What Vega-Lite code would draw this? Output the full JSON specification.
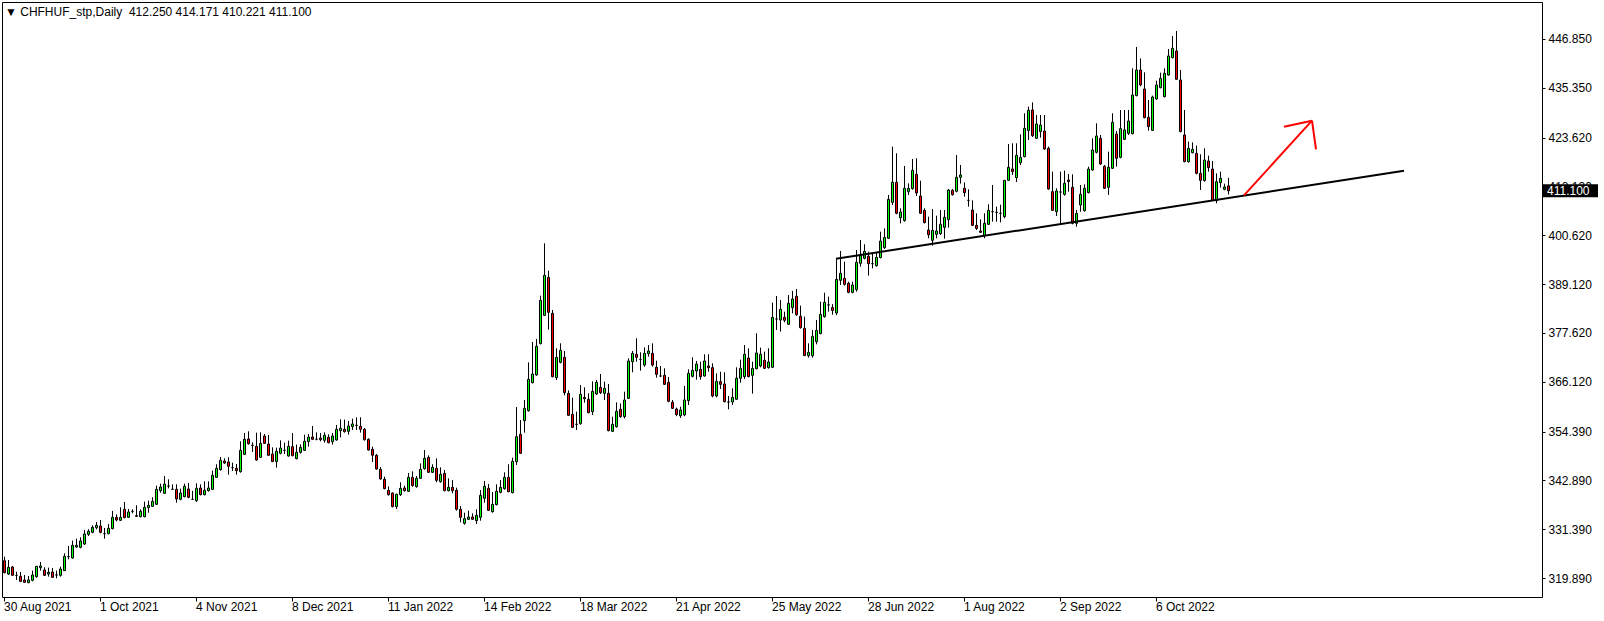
{
"$schema": "https://vega.github.io/schema/vega-lite/v6.json",
"width": 1540, "height": 595,
"autosize": "none",
"padding": {"left": 2, "top": 2, "right": 62, "bottom": 24},
"background": "white",
"config": {"view": {"stroke": "black", "strokeWidth": 1}, "axis": {"labelFont": "Liberation Sans", "labelFontSize": 12, "labelColor": "black", "tickColor": "black", "domainColor": "black", "grid": false}},
"title": {"text": "▼ CHFHUF_stp,Daily\u00a0 412.250 414.171 410.221 411.100", "anchor": "start", "frame": "group", "orient": "top", "offset": -4, "dy": 13, "font": "Liberation Sans", "fontSize": 12, "fontWeight": "normal", "color": "black", "dx": 3},
"datasets": {
"candles": [
{"d":"2021-08-30","o":323.97,"h":324.92,"l":320.99,"c":321.15},
{"d":"2021-08-31","o":320.83,"h":324.13,"l":320.60,"c":322.41},
{"d":"2021-09-01","o":322.49,"h":322.72,"l":320.37,"c":320.52},
{"d":"2021-09-02","o":320.52,"h":321.39,"l":319.42,"c":320.52},
{"d":"2021-09-03","o":320.29,"h":321.31,"l":318.95,"c":319.11},
{"d":"2021-09-06","o":319.42,"h":320.60,"l":318.80,"c":318.87},
{"d":"2021-09-07","o":318.80,"h":320.37,"l":318.64,"c":319.42},
{"d":"2021-09-08","o":319.35,"h":321.62,"l":319.11,"c":320.60},
{"d":"2021-09-09","o":320.21,"h":322.72,"l":319.97,"c":322.64},
{"d":"2021-09-10","o":322.33,"h":323.66,"l":321.62,"c":322.72},
{"d":"2021-09-13","o":321.78,"h":322.41,"l":320.37,"c":320.52},
{"d":"2021-09-14","o":320.83,"h":322.33,"l":320.21,"c":321.23},
{"d":"2021-09-15","o":321.31,"h":322.25,"l":319.97,"c":320.05},
{"d":"2021-09-16","o":320.60,"h":321.62,"l":319.81,"c":320.60},
{"d":"2021-09-17","o":320.52,"h":322.56,"l":320.21,"c":322.01},
{"d":"2021-09-20","o":321.62,"h":325.70,"l":321.54,"c":324.99},
{"d":"2021-09-21","o":324.92,"h":327.43,"l":324.29,"c":324.92},
{"d":"2021-09-22","o":324.60,"h":328.69,"l":324.45,"c":327.59},
{"d":"2021-09-23","o":327.20,"h":329.16,"l":327.00,"c":327.60},
{"d":"2021-09-24","o":327.12,"h":329.47,"l":326.88,"c":328.61},
{"d":"2021-09-27","o":327.90,"h":331.20,"l":327.67,"c":330.26},
{"d":"2021-09-28","o":330.18,"h":331.36,"l":329.79,"c":330.89},
{"d":"2021-09-29","o":330.65,"h":332.30,"l":330.42,"c":331.83},
{"d":"2021-09-30","o":331.75,"h":333.09,"l":331.36,"c":332.30},
{"d":"2021-10-01","o":332.14,"h":333.56,"l":330.42,"c":330.65},
{"d":"2021-10-04","o":330.34,"h":331.67,"l":329.16,"c":330.34},
{"d":"2021-10-05","o":330.34,"h":332.61,"l":330.18,"c":331.59},
{"d":"2021-10-06","o":331.52,"h":335.68,"l":331.36,"c":334.18},
{"d":"2021-10-07","o":334.18,"h":334.89,"l":333.24,"c":333.56},
{"d":"2021-10-08","o":333.48,"h":336.54,"l":333.32,"c":334.18},
{"d":"2021-10-11","o":336.07,"h":337.80,"l":333.95,"c":334.11},
{"d":"2021-10-12","o":334.18,"h":336.15,"l":334.03,"c":335.44},
{"d":"2021-10-13","o":335.60,"h":336.07,"l":335.13,"c":335.60},
{"d":"2021-10-14","o":334.58,"h":337.01,"l":334.34,"c":334.42},
{"d":"2021-10-15","o":334.34,"h":336.07,"l":334.18,"c":335.60},
{"d":"2021-10-18","o":334.34,"h":337.87,"l":334.18,"c":336.54},
{"d":"2021-10-19","o":336.46,"h":338.11,"l":335.28,"c":337.01},
{"d":"2021-10-20","o":336.77,"h":338.90,"l":336.62,"c":337.95},
{"d":"2021-10-21","o":337.25,"h":341.64,"l":337.09,"c":340.78},
{"d":"2021-10-22","o":340.46,"h":342.11,"l":339.99,"c":341.33},
{"d":"2021-10-25","o":339.84,"h":343.92,"l":339.68,"c":342.03},
{"d":"2021-10-26","o":341.56,"h":343.13,"l":341.01,"c":341.56},
{"d":"2021-10-27","o":340.78,"h":341.95,"l":340.62,"c":340.78},
{"d":"2021-10-28","o":340.78,"h":341.95,"l":337.64,"c":338.50},
{"d":"2021-10-29","o":338.42,"h":340.93,"l":338.19,"c":339.91},
{"d":"2021-11-01","o":339.05,"h":342.11,"l":338.89,"c":341.49},
{"d":"2021-11-02","o":340.86,"h":342.27,"l":338.66,"c":338.89},
{"d":"2021-11-03","o":338.42,"h":340.41,"l":338.26,"c":338.42},
{"d":"2021-11-04","o":338.11,"h":342.19,"l":337.80,"c":341.01},
{"d":"2021-11-05","o":341.09,"h":341.95,"l":339.36,"c":339.52},
{"d":"2021-11-08","o":339.52,"h":342.66,"l":339.36,"c":340.54},
{"d":"2021-11-09","o":340.46,"h":342.66,"l":340.23,"c":341.09},
{"d":"2021-11-10","o":340.78,"h":345.18,"l":340.62,"c":344.08},
{"d":"2021-11-11","o":343.60,"h":346.67,"l":343.45,"c":345.72},
{"d":"2021-11-12","o":345.41,"h":348.39,"l":345.18,"c":347.61},
{"d":"2021-11-15","o":347.45,"h":348.08,"l":346.75,"c":346.98},
{"d":"2021-11-16","o":347.22,"h":348.32,"l":344.23,"c":346.20},
{"d":"2021-11-17","o":345.88,"h":347.06,"l":345.10,"c":345.88},
{"d":"2021-11-18","o":345.72,"h":346.75,"l":344.23,"c":345.18},
{"d":"2021-11-19","o":344.94,"h":352.08,"l":344.70,"c":349.96},
{"d":"2021-11-22","o":349.02,"h":354.05,"l":348.87,"c":352.56},
{"d":"2021-11-23","o":352.63,"h":354.44,"l":351.30,"c":351.53},
{"d":"2021-11-24","o":351.14,"h":351.85,"l":349.57,"c":351.14},
{"d":"2021-11-25","o":350.91,"h":354.13,"l":347.53,"c":347.69},
{"d":"2021-11-26","o":348.32,"h":354.20,"l":348.16,"c":351.61},
{"d":"2021-11-29","o":353.34,"h":353.81,"l":351.46,"c":351.61},
{"d":"2021-11-30","o":351.46,"h":353.58,"l":348.63,"c":348.79},
{"d":"2021-12-01","o":349.10,"h":350.67,"l":347.22,"c":347.30},
{"d":"2021-12-02","o":347.30,"h":350.59,"l":345.88,"c":349.73},
{"d":"2021-12-03","o":349.26,"h":352.32,"l":349.02,"c":350.51},
{"d":"2021-12-06","o":349.96,"h":351.77,"l":349.10,"c":349.96},
{"d":"2021-12-07","o":348.63,"h":352.24,"l":348.47,"c":350.91},
{"d":"2021-12-08","o":350.83,"h":354.05,"l":348.55,"c":348.71},
{"d":"2021-12-09","o":348.00,"h":351.30,"l":347.84,"c":349.49},
{"d":"2021-12-10","o":349.49,"h":351.38,"l":349.18,"c":350.67},
{"d":"2021-12-13","o":349.96,"h":353.65,"l":349.81,"c":352.08},
{"d":"2021-12-14","o":352.01,"h":353.81,"l":350.83,"c":353.10},
{"d":"2021-12-15","o":353.10,"h":355.70,"l":352.40,"c":352.56},
{"d":"2021-12-16","o":352.56,"h":354.20,"l":352.32,"c":352.56},
{"d":"2021-12-17","o":352.87,"h":354.05,"l":352.08,"c":352.48},
{"d":"2021-12-20","o":352.32,"h":354.20,"l":351.77,"c":353.50},
{"d":"2021-12-21","o":353.03,"h":353.73,"l":351.61,"c":351.77},
{"d":"2021-12-22","o":352.01,"h":354.05,"l":351.30,"c":353.34},
{"d":"2021-12-23","o":352.40,"h":355.93,"l":352.24,"c":354.91},
{"d":"2021-12-24","o":354.60,"h":357.27,"l":353.03,"c":355.15},
{"d":"2021-12-27","o":354.91,"h":357.19,"l":354.13,"c":354.36},
{"d":"2021-12-28","o":354.44,"h":356.87,"l":353.65,"c":355.70},
{"d":"2021-12-29","o":355.54,"h":357.42,"l":354.75,"c":356.17},
{"d":"2021-12-30","o":355.85,"h":357.74,"l":354.75,"c":355.85},
{"d":"2021-12-31","o":355.62,"h":357.74,"l":354.13,"c":354.91},
{"d":"2022-01-03","o":354.91,"h":355.22,"l":352.24,"c":352.48},
{"d":"2022-01-04","o":352.56,"h":352.79,"l":349.89,"c":350.04},
{"d":"2022-01-05","o":350.20,"h":350.83,"l":347.22,"c":348.79},
{"d":"2022-01-06","o":348.79,"h":349.10,"l":345.41,"c":345.57},
{"d":"2022-01-07","o":345.49,"h":346.04,"l":343.06,"c":343.21},
{"d":"2022-01-10","o":343.13,"h":343.76,"l":340.78,"c":340.94},
{"d":"2022-01-11","o":340.54,"h":341.48,"l":339.29,"c":339.52},
{"d":"2022-01-12","o":339.91,"h":340.07,"l":336.54,"c":336.70},
{"d":"2022-01-13","o":336.70,"h":339.76,"l":336.15,"c":339.60},
{"d":"2022-01-14","o":339.52,"h":342.43,"l":339.21,"c":341.01},
{"d":"2022-01-17","o":341.09,"h":341.64,"l":340.23,"c":340.46},
{"d":"2022-01-18","o":340.31,"h":344.63,"l":340.15,"c":343.60},
{"d":"2022-01-19","o":343.60,"h":345.02,"l":341.41,"c":341.64},
{"d":"2022-01-20","o":341.40,"h":343.92,"l":341.17,"c":343.37},
{"d":"2022-01-21","o":343.37,"h":346.90,"l":343.21,"c":345.49},
{"d":"2022-01-24","o":345.64,"h":350.04,"l":345.41,"c":348.08},
{"d":"2022-01-25","o":348.31,"h":348.78,"l":344.62,"c":344.78},
{"d":"2022-01-26","o":344.78,"h":346.67,"l":344.62,"c":345.96},
{"d":"2022-01-27","o":345.72,"h":348.08,"l":342.43,"c":342.90},
{"d":"2022-01-28","o":342.58,"h":345.96,"l":342.35,"c":344.31},
{"d":"2022-01-31","o":344.54,"h":345.33,"l":340.31,"c":340.46},
{"d":"2022-02-01","o":340.46,"h":343.37,"l":340.31,"c":341.25},
{"d":"2022-02-02","o":341.25,"h":342.97,"l":339.83,"c":340.46},
{"d":"2022-02-03","o":340.54,"h":341.17,"l":335.75,"c":336.07},
{"d":"2022-02-04","o":336.07,"h":336.85,"l":333.00,"c":334.18},
{"d":"2022-02-07","o":332.77,"h":335.28,"l":332.45,"c":333.87},
{"d":"2022-02-08","o":333.71,"h":335.75,"l":333.55,"c":334.26},
{"d":"2022-02-09","o":334.26,"h":335.12,"l":333.55,"c":333.71},
{"d":"2022-02-10","o":333.40,"h":336.07,"l":332.61,"c":334.65},
{"d":"2022-02-11","o":334.18,"h":340.62,"l":333.40,"c":339.36},
{"d":"2022-02-14","o":338.66,"h":342.74,"l":337.64,"c":341.48},
{"d":"2022-02-15","o":341.01,"h":342.03,"l":335.67,"c":335.83},
{"d":"2022-02-16","o":335.52,"h":340.15,"l":335.28,"c":337.24},
{"d":"2022-02-17","o":337.17,"h":341.95,"l":337.01,"c":340.31},
{"d":"2022-02-18","o":340.07,"h":342.97,"l":339.83,"c":341.25},
{"d":"2022-02-21","o":340.93,"h":344.78,"l":340.70,"c":343.60},
{"d":"2022-02-22","o":343.60,"h":346.67,"l":340.07,"c":340.23},
{"d":"2022-02-23","o":339.99,"h":348.24,"l":339.83,"c":347.37},
{"d":"2022-02-24","o":347.29,"h":360.17,"l":346.51,"c":353.18},
{"d":"2022-02-25","o":353.73,"h":357.11,"l":349.10,"c":349.26},
{"d":"2022-02-28","o":356.95,"h":361.82,"l":354.12,"c":359.86},
{"d":"2022-03-01","o":359.31,"h":370.69,"l":359.07,"c":366.69},
{"d":"2022-03-02","o":365.90,"h":375.48,"l":365.74,"c":367.94},
{"d":"2022-03-03","o":367.71,"h":376.19,"l":367.55,"c":374.46},
{"d":"2022-03-04","o":375.09,"h":386.39,"l":374.93,"c":385.29},
{"d":"2022-03-07","o":381.76,"h":398.72,"l":381.60,"c":391.18},
{"d":"2022-03-08","o":390.71,"h":392.28,"l":378.38,"c":382.47},
{"d":"2022-03-09","o":382.23,"h":383.02,"l":367.16,"c":367.31},
{"d":"2022-03-10","o":367.08,"h":373.99,"l":366.53,"c":371.87},
{"d":"2022-03-11","o":370.69,"h":375.17,"l":370.45,"c":373.52},
{"d":"2022-03-14","o":371.87,"h":373.36,"l":362.92,"c":363.55},
{"d":"2022-03-15","o":363.39,"h":364.09,"l":358.05,"c":358.21},
{"d":"2022-03-16","o":358.44,"h":362.37,"l":355.22,"c":355.38},
{"d":"2022-03-17","o":356.09,"h":359.07,"l":354.75,"c":356.09},
{"d":"2022-03-18","o":356.24,"h":365.35,"l":356.01,"c":363.15},
{"d":"2022-03-21","o":362.45,"h":364.80,"l":361.19,"c":362.13},
{"d":"2022-03-22","o":361.98,"h":363.39,"l":358.68,"c":358.83},
{"d":"2022-03-23","o":359.07,"h":366.21,"l":358.28,"c":363.86},
{"d":"2022-03-24","o":363.23,"h":366.53,"l":363.00,"c":365.98},
{"d":"2022-03-25","o":364.80,"h":367.94,"l":363.23,"c":363.55},
{"d":"2022-03-28","o":363.39,"h":366.14,"l":361.82,"c":364.57},
{"d":"2022-03-29","o":363.39,"h":365.59,"l":354.44,"c":354.60},
{"d":"2022-03-30","o":354.44,"h":357.89,"l":354.28,"c":356.09},
{"d":"2022-03-31","o":355.54,"h":361.27,"l":355.30,"c":359.15},
{"d":"2022-04-01","o":359.65,"h":361.00,"l":357.60,"c":357.90},
{"d":"2022-04-04","o":357.90,"h":363.78,"l":357.50,"c":361.82},
{"d":"2022-04-05","o":362.21,"h":371.64,"l":362.06,"c":371.01},
{"d":"2022-04-06","o":370.85,"h":373.36,"l":368.34,"c":372.81},
{"d":"2022-04-07","o":372.58,"h":376.35,"l":370.85,"c":371.87},
{"d":"2022-04-08","o":371.40,"h":373.05,"l":368.73,"c":371.40},
{"d":"2022-04-11","o":370.06,"h":374.22,"l":369.67,"c":372.81},
{"d":"2022-04-12","o":372.74,"h":374.77,"l":372.03,"c":373.36},
{"d":"2022-04-13","o":372.81,"h":375.17,"l":369.67,"c":370.06},
{"d":"2022-04-14","o":369.52,"h":371.09,"l":367.08,"c":367.87},
{"d":"2022-04-15","o":367.47,"h":369.83,"l":367.24,"c":367.47},
{"d":"2022-04-18","o":367.63,"h":369.28,"l":365.35,"c":365.51},
{"d":"2022-04-19","o":365.98,"h":367.24,"l":361.27,"c":361.51},
{"d":"2022-04-20","o":361.27,"h":361.82,"l":359.70,"c":359.86},
{"d":"2022-04-21","o":359.70,"h":360.02,"l":358.00,"c":358.40},
{"d":"2022-04-22","o":358.10,"h":360.25,"l":357.60,"c":359.47},
{"d":"2022-04-25","o":358.30,"h":365.12,"l":358.00,"c":361.82},
{"d":"2022-04-26","o":361.66,"h":369.04,"l":360.64,"c":368.10},
{"d":"2022-04-27","o":367.40,"h":371.87,"l":367.16,"c":368.81},
{"d":"2022-04-28","o":368.65,"h":371.01,"l":366.61,"c":370.30},
{"d":"2022-04-29","o":369.04,"h":370.85,"l":366.61,"c":367.32},
{"d":"2022-05-02","o":367.47,"h":372.58,"l":367.32,"c":371.01},
{"d":"2022-05-03","o":369.83,"h":372.58,"l":368.49,"c":369.44},
{"d":"2022-05-04","o":369.44,"h":370.46,"l":362.45,"c":362.76},
{"d":"2022-05-05","o":362.76,"h":368.10,"l":362.45,"c":366.22},
{"d":"2022-05-06","o":366.14,"h":368.49,"l":364.41,"c":365.51},
{"d":"2022-05-09","o":365.59,"h":368.34,"l":361.27,"c":361.43},
{"d":"2022-05-10","o":361.35,"h":362.76,"l":359.62,"c":361.35},
{"d":"2022-05-11","o":361.35,"h":364.57,"l":360.64,"c":362.45},
{"d":"2022-05-12","o":361.98,"h":369.52,"l":361.82,"c":366.93},
{"d":"2022-05-13","o":366.93,"h":371.32,"l":365.90,"c":369.28},
{"d":"2022-05-16","o":367.32,"h":374.77,"l":366.77,"c":372.58},
{"d":"2022-05-17","o":371.71,"h":373.99,"l":367.16,"c":367.32},
{"d":"2022-05-18","o":367.63,"h":370.85,"l":363.31,"c":369.28},
{"d":"2022-05-19","o":369.20,"h":377.52,"l":369.04,"c":372.89},
{"d":"2022-05-20","o":369.83,"h":374.15,"l":369.52,"c":372.58},
{"d":"2022-05-23","o":371.17,"h":373.21,"l":369.12,"c":369.28},
{"d":"2022-05-24","o":369.44,"h":373.99,"l":369.20,"c":370.77},
{"d":"2022-05-25","o":369.52,"h":384.75,"l":369.36,"c":381.29},
{"d":"2022-05-26","o":380.90,"h":386.32,"l":378.31,"c":380.90},
{"d":"2022-05-27","o":380.67,"h":385.38,"l":377.92,"c":383.18},
{"d":"2022-05-30","o":381.29,"h":382.63,"l":380.12,"c":380.59},
{"d":"2022-05-31","o":379.64,"h":386.55,"l":379.49,"c":384.59},
{"d":"2022-06-01","o":383.57,"h":387.50,"l":382.24,"c":385.61},
{"d":"2022-06-02","o":386.24,"h":387.97,"l":381.61,"c":381.92},
{"d":"2022-06-03","o":381.53,"h":384.04,"l":378.62,"c":378.86},
{"d":"2022-06-06","o":378.70,"h":381.45,"l":372.19,"c":372.26},
{"d":"2022-06-07","o":372.26,"h":375.17,"l":371.79,"c":373.05},
{"d":"2022-06-08","o":372.26,"h":378.31,"l":371.79,"c":376.82},
{"d":"2022-06-09","o":375.56,"h":380.67,"l":374.93,"c":378.23},
{"d":"2022-06-10","o":377.45,"h":384.98,"l":377.29,"c":382.00},
{"d":"2022-06-13","o":381.45,"h":387.10,"l":381.21,"c":384.83},
{"d":"2022-06-14","o":384.20,"h":386.16,"l":382.63,"c":384.20},
{"d":"2022-06-15","o":383.60,"h":384.40,"l":381.90,"c":382.90},
{"d":"2022-06-16","o":382.30,"h":394.95,"l":381.80,"c":390.24},
{"d":"2022-06-17","o":390.01,"h":396.92,"l":388.91,"c":391.66},
{"d":"2022-06-20","o":390.48,"h":394.40,"l":388.75,"c":389.06},
{"d":"2022-06-21","o":389.30,"h":389.69,"l":386.94,"c":387.18},
{"d":"2022-06-22","o":387.18,"h":389.69,"l":386.94,"c":388.91},
{"d":"2022-06-23","o":387.81,"h":397.15,"l":387.34,"c":394.25},
{"d":"2022-06-24","o":394.01,"h":399.51,"l":393.23,"c":395.82},
{"d":"2022-06-27","o":395.19,"h":398.49,"l":394.95,"c":396.84},
{"d":"2022-06-28","o":395.66,"h":396.76,"l":391.11,"c":393.93},
{"d":"2022-06-29","o":393.93,"h":396.37,"l":392.83,"c":393.93},
{"d":"2022-06-30","o":393.46,"h":396.52,"l":393.23,"c":395.42},
{"d":"2022-07-01","o":395.35,"h":401.47,"l":395.19,"c":399.27},
{"d":"2022-07-04","o":397.70,"h":402.25,"l":397.39,"c":400.13},
{"d":"2022-07-05","o":399.90,"h":410.11,"l":399.74,"c":409.08},
{"d":"2022-07-06","o":408.38,"h":421.49,"l":407.75,"c":413.09},
{"d":"2022-07-07","o":413.09,"h":419.92,"l":405.55,"c":405.79},
{"d":"2022-07-08","o":404.77,"h":406.97,"l":403.43,"c":406.10},
{"d":"2022-07-11","o":404.06,"h":416.94,"l":403.82,"c":411.68},
{"d":"2022-07-12","o":410.89,"h":412.85,"l":410.11,"c":411.68},
{"d":"2022-07-13","o":411.60,"h":418.59,"l":411.36,"c":415.92},
{"d":"2022-07-14","o":414.97,"h":418.74,"l":409.87,"c":410.58},
{"d":"2022-07-15","o":409.87,"h":413.48,"l":405.63,"c":405.79},
{"d":"2022-07-18","o":406.49,"h":406.97,"l":403.43,"c":403.59},
{"d":"2022-07-19","o":401.86,"h":405.00,"l":399.90,"c":400.76},
{"d":"2022-07-20","o":399.43,"h":406.81,"l":398.17,"c":401.78},
{"d":"2022-07-21","o":400.84,"h":405.24,"l":399.90,"c":401.63},
{"d":"2022-07-22","o":401.00,"h":406.57,"l":400.68,"c":403.20},
{"d":"2022-07-25","o":402.49,"h":406.57,"l":399.82,"c":404.85},
{"d":"2022-07-26","o":404.30,"h":411.52,"l":402.41,"c":411.28},
{"d":"2022-07-27","o":411.21,"h":411.52,"l":409.95,"c":410.18},
{"d":"2022-07-28","o":410.97,"h":419.53,"l":410.73,"c":414.27},
{"d":"2022-07-29","o":414.27,"h":417.17,"l":412.78,"c":414.82},
{"d":"2022-08-01","o":411.68,"h":413.09,"l":409.71,"c":410.66},
{"d":"2022-08-02","o":408.85,"h":411.44,"l":407.36,"c":408.85},
{"d":"2022-08-03","o":406.57,"h":408.85,"l":402.80,"c":402.96},
{"d":"2022-08-04","o":402.96,"h":405.79,"l":401.86,"c":402.25},
{"d":"2022-08-05","o":401.63,"h":404.37,"l":401.16,"c":401.31},
{"d":"2022-08-08","o":400.53,"h":405.79,"l":399.90,"c":403.43},
{"d":"2022-08-09","o":403.20,"h":407.91,"l":403.04,"c":406.49},
{"d":"2022-08-10","o":406.18,"h":412.46,"l":403.82,"c":406.18},
{"d":"2022-08-11","o":406.02,"h":407.36,"l":403.82,"c":406.02},
{"d":"2022-08-12","o":405.79,"h":407.83,"l":403.67,"c":405.79},
{"d":"2022-08-15","o":405.00,"h":413.64,"l":404.61,"c":413.56},
{"d":"2022-08-16","o":413.56,"h":422.12,"l":413.40,"c":416.62},
{"d":"2022-08-17","o":416.23,"h":422.28,"l":414.82,"c":415.60},
{"d":"2022-08-18","o":414.19,"h":422.28,"l":413.17,"c":419.45},
{"d":"2022-08-19","o":417.72,"h":424.40,"l":417.17,"c":418.98},
{"d":"2022-08-22","o":419.14,"h":429.34,"l":418.98,"c":425.81},
{"d":"2022-08-23","o":425.26,"h":430.91,"l":423.06,"c":430.05},
{"d":"2022-08-24","o":430.13,"h":431.93,"l":423.77,"c":424.08},
{"d":"2022-08-25","o":423.46,"h":428.95,"l":423.30,"c":426.83},
{"d":"2022-08-26","o":425.03,"h":428.95,"l":423.61,"c":426.59},
{"d":"2022-08-29","o":425.18,"h":428.95,"l":420.71,"c":420.94},
{"d":"2022-08-30","o":421.10,"h":421.49,"l":411.36,"c":411.52},
{"d":"2022-08-31","o":410.89,"h":415.60,"l":406.34,"c":406.50},
{"d":"2022-09-01","o":406.18,"h":411.68,"l":405.16,"c":411.05},
{"d":"2022-09-02","o":410.81,"h":415.60,"l":403.04,"c":410.81},
{"d":"2022-09-05","o":410.26,"h":415.84,"l":409.95,"c":412.86},
{"d":"2022-09-06","o":413.64,"h":415.05,"l":410.89,"c":413.25},
{"d":"2022-09-07","o":411.91,"h":414.98,"l":403.20,"c":403.43},
{"d":"2022-09-08","o":403.43,"h":406.57,"l":402.65,"c":405.79},
{"d":"2022-09-09","o":407.75,"h":412.46,"l":406.18,"c":410.26},
{"d":"2022-09-12","o":406.42,"h":412.62,"l":406.18,"c":411.68},
{"d":"2022-09-13","o":410.66,"h":416.78,"l":410.50,"c":416.23},
{"d":"2022-09-14","o":416.00,"h":423.46,"l":415.84,"c":420.71},
{"d":"2022-09-15","o":420.16,"h":426.99,"l":419.92,"c":424.00},
{"d":"2022-09-16","o":423.46,"h":424.24,"l":417.17,"c":417.41},
{"d":"2022-09-19","o":416.86,"h":417.17,"l":411.52,"c":411.68},
{"d":"2022-09-20","o":411.91,"h":420.31,"l":410.11,"c":416.62},
{"d":"2022-09-21","o":416.39,"h":429.34,"l":416.23,"c":427.22},
{"d":"2022-09-22","o":424.48,"h":425.18,"l":416.78,"c":418.74},
{"d":"2022-09-23","o":418.98,"h":430.13,"l":418.74,"c":425.73},
{"d":"2022-09-26","o":423.22,"h":430.13,"l":423.06,"c":425.42},
{"d":"2022-09-27","o":424.63,"h":430.13,"l":424.24,"c":427.54},
{"d":"2022-09-28","o":424.55,"h":439.94,"l":424.40,"c":433.66},
{"d":"2022-09-29","o":433.51,"h":444.97,"l":433.35,"c":439.55},
{"d":"2022-09-30","o":439.55,"h":442.30,"l":435.70,"c":436.02},
{"d":"2022-10-03","o":435.08,"h":439.00,"l":428.16,"c":428.32},
{"d":"2022-10-04","o":428.40,"h":432.48,"l":425.26,"c":426.20},
{"d":"2022-10-05","o":425.34,"h":433.51,"l":425.18,"c":433.19},
{"d":"2022-10-06","o":432.72,"h":437.04,"l":432.56,"c":436.02},
{"d":"2022-10-07","o":435.39,"h":438.92,"l":435.23,"c":437.59},
{"d":"2022-10-10","o":433.27,"h":439.94,"l":433.11,"c":438.77},
{"d":"2022-10-11","o":438.37,"h":444.50,"l":438.22,"c":442.85},
{"d":"2022-10-12","o":442.46,"h":447.56,"l":442.30,"c":444.65},
{"d":"2022-10-13","o":444.03,"h":448.74,"l":437.20,"c":437.35},
{"d":"2022-10-14","o":437.20,"h":439.55,"l":424.87,"c":425.03},
{"d":"2022-10-17","o":424.24,"h":430.13,"l":417.80,"c":417.96},
{"d":"2022-10-18","o":417.96,"h":422.67,"l":417.72,"c":421.10},
{"d":"2022-10-19","o":420.08,"h":422.51,"l":419.92,"c":420.86},
{"d":"2022-10-20","o":419.92,"h":421.73,"l":414.98,"c":415.21},
{"d":"2022-10-21","o":415.21,"h":419.69,"l":411.29,"c":413.56},
{"d":"2022-10-24","o":413.48,"h":421.10,"l":413.25,"c":418.35},
{"d":"2022-10-25","o":418.12,"h":419.37,"l":415.60,"c":416.55},
{"d":"2022-10-26","o":416.23,"h":418.12,"l":408.69,"c":408.93},
{"d":"2022-10-27","o":408.77,"h":415.21,"l":408.15,"c":413.25},
{"d":"2022-10-28","o":413.01,"h":415.60,"l":411.84,"c":414.03},
{"d":"2022-10-31","o":411.44,"h":412.78,"l":411.21,"c":411.99},
{"d":"2022-11-01","o":412.25,"h":414.171,"l":410.221,"c":411.10}
],
"trend": [{"a":"2022-06-16","pa":395.08,"b":"2023-01-02","pb":415.81}],
"arrow": [
{"a":"2022-11-07","pa":410.01,"b":"2022-11-30","pb":427.61},
{"a":"2022-11-21","pa":426.17,"b":"2022-11-30","pb":427.61},
{"a":"2022-12-01","pa":420.85,"b":"2022-11-30","pb":427.61}
],
"last": [{"last": 411.1}]
},
"layer": [
{
"data": {"name": "candles"},
"mark": {"type": "rule", "color": "black", "strokeWidth": 1, "xOffset": 0.5},
"encoding": {
"x": {"field": "d", "type": "ordinal", "title": null,
"scale": {"type": "band", "paddingInner": 0, "paddingOuter": 0, "align": 0,
"domain": {"unionWith": ["2022-11-02","2022-11-03","2022-11-04","2022-11-07","2022-11-08","2022-11-09","2022-11-10","2022-11-11","2022-11-14","2022-11-15","2022-11-16","2022-11-17","2022-11-18","2022-11-21","2022-11-22","2022-11-23","2022-11-24","2022-11-25","2022-11-28","2022-11-29","2022-11-30","2022-12-01","2022-12-02","2022-12-05","2022-12-06","2022-12-07","2022-12-08","2022-12-09","2022-12-12","2022-12-13","2022-12-14","2022-12-15","2022-12-16","2022-12-19","2022-12-20","2022-12-21","2022-12-22","2022-12-23","2022-12-26","2022-12-27","2022-12-28","2022-12-29","2022-12-30","2023-01-02","2023-01-03","2023-01-04","2023-01-05","2023-01-06","2023-01-09","2023-01-10","2023-01-11","2023-01-12","2023-01-13","2023-01-16","2023-01-17","2023-01-18","2023-01-19","2023-01-20","2023-01-23","2023-01-24","2023-01-25","2023-01-26","2023-01-27","2023-01-30","2023-01-31","2023-02-01","2023-02-02","2023-02-03","2023-02-06","2023-02-07","2023-02-08","2023-02-09","2023-02-10","2023-02-13","2023-02-14","2023-02-15","2023-02-16","2023-02-17"]}},
"axis": {"values": ["2021-08-30","2021-10-01","2021-11-04","2021-12-08","2022-01-11","2022-02-14","2022-03-18","2022-04-21","2022-05-25","2022-06-28","2022-08-01","2022-09-02","2022-10-06"],
"labelExpr": "utcFormat(toDate(datum.value), '%-d %b %Y')", "bandPosition": 0.5,
"labelAlign": "left", "labelBaseline": "top", "labelAngle": 0, "tickSize": 4, "labelPadding": 0, "labelOverlap": false, "labelBound": false, "domain": false}},
"y": {"field": "h", "type": "quantitative", "title": null,
"scale": {"domain": [315.415, 455.565], "nice": false, "zero": false},
"axis": {"orient": "right", "values": [319.89, 331.39, 342.89, 354.39, 366.12, 377.62, 389.12, 400.62, 412.13, 423.62, 435.35, 446.85],
"format": ".3f", "tickSize": 3, "labelPadding": 3, "domain": false, "labelOverlap": false, "labelBound": false}},
"y2": {"field": "l"}
}
},
{
"data": {"name": "candles"},
"mark": {"type": "bar", "width": 2, "stroke": "black", "strokeWidth": 1, "xOffset": 0.5},
"encoding": {
"x": {"field": "d", "type": "ordinal"},
"y": {"field": "o", "type": "quantitative"},
"y2": {"field": "c"},
"fill": {"condition": {"test": "datum.c < datum.o", "value": "#ff0000"}, "value": "#00ff00"}
}
},
{
"data": {"name": "trend"},
"mark": {"type": "rule", "color": "black", "strokeWidth": 2},
"encoding": {
"x": {"field": "a", "type": "ordinal"},
"x2": {"field": "b"},
"y": {"field": "pa", "type": "quantitative"},
"y2": {"field": "pb"}
}
},
{
"data": {"name": "arrow"},
"mark": {"type": "rule", "color": "#ff0000", "strokeWidth": 2},
"encoding": {
"x": {"field": "a", "type": "ordinal"},
"x2": {"field": "b"},
"y": {"field": "pa", "type": "quantitative"},
"y2": {"field": "pb"}
}
},
{
"data": {"name": "last"},
"mark": {"type": "rect", "color": "black", "xOffset": 0, "x2Offset": 56, "yOffset": -6.5, "y2Offset": 6.5, "clip": false},
"encoding": {
"x": {"value": "width"},
"x2": {"value": "width"},
"y": {"field": "last", "type": "quantitative"},
"y2": {"field": "last"}
}
},
{
"data": {"name": "last"},
"mark": {"type": "text", "color": "white", "align": "left", "baseline": "middle", "font": "Liberation Sans", "fontSize": 12, "xOffset": 5, "clip": false},
"encoding": {
"x": {"value": "width"},
"y": {"field": "last", "type": "quantitative"},
"text": {"field": "last", "type": "quantitative", "format": ".3f"}
}
}
]
}
